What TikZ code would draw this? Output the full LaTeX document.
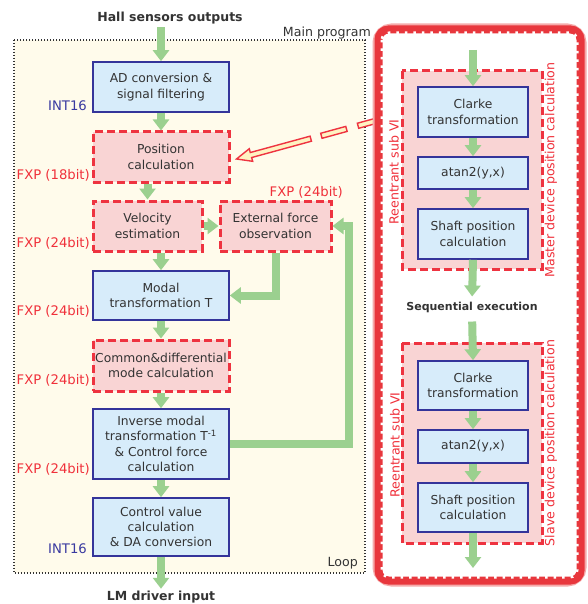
\documentclass[tikz,border=0pt]{standalone}
\usepackage{fontspec}
\setmainfont{DejaVu Sans}
\usetikzlibrary{arrows.meta,calc}

\definecolor{flowgreen}{HTML}{9BD08F}
\definecolor{bluefill}{HTML}{D7ECFA}
\definecolor{navyline}{HTML}{34349A}
\definecolor{pinkfill}{HTML}{F9D4D4}
\definecolor{dashred}{HTML}{EE3340}
\definecolor{txtgray}{HTML}{333333}
\definecolor{lblred}{HTML}{F0303A}
\definecolor{lblblue}{HTML}{3A3AA0}
\definecolor{creambg}{HTML}{FFFBEB}
\definecolor{paleyellow}{HTML}{FFF2C2}
\definecolor{panelred}{HTML}{E8373D}
\definecolor{panelglow}{HTML}{F5AAAA}

\newcommand\boxtxt{\fontsize{12.3}{15.3}\selectfont}
\newcommand\lbltxt{\fontsize{13.2}{15}\selectfont}
\newcommand\headtxt{\fontsize{12.5}{15}\selectfont\bfseries}
\newcommand\sidetxt{\fontsize{12.6}{15}\selectfont}

\tikzset{
  blk/.style={draw=navyline, line width=1.6pt, fill=bluefill, text=txtgray,
    align=center, inner sep=1pt, font=\boxtxt},
  fxpblk/.style={draw=dashred, line width=3pt, dash pattern=on 8pt off 4pt,
    fill=pinkfill, text=txtgray, align=center, inner sep=1pt, font=\boxtxt},
  grpbox/.style={draw=dashred, line width=3pt, dash pattern=on 8pt off 4pt, fill=pinkfill},
  flow/.style={draw=flowgreen, line width=8pt, -{Triangle[width=16pt,length=11pt]}},
  redlbl/.style={text=lblred, font=\lbltxt, inner sep=0pt},
  bluelbl/.style={text=lblblue, font=\lbltxt, inner sep=0pt},
  hollowarrow/.style={draw=dashred, line width=1.4pt, fill=paleyellow, line join=miter},
  sidelbl/.style={text=lblred, font=\sidetxt, rotate=90, inner sep=0pt},
}

\begin{document}
\begin{tikzpicture}[x=1pt,y=-1pt]
\useasboundingbox (0,0) rectangle (587,604);

% main program area
\filldraw[fill=creambg, draw=black!80, line width=1.2pt, dash pattern=on 1.3pt off 1.7pt]
  (14,40) rectangle (365,573);
\node[anchor=east, text=black!80, font=\sidetxt, inner sep=0pt] (mainlbl) at (371,33) {Main program};
\node[anchor=east, text=black!80, font=\sidetxt, inner sep=0pt] (looplbl) at (358,563) {Loop};

% input / output texts
\node[text=txtgray, font=\headtxt, inner sep=0pt] (hall) at (170,18) {Hall sensors outputs};
\node[text=txtgray, font=\headtxt, inner sep=0pt] (lm) at (161,597) {LM driver input};

% processing chain
\node[blk, minimum width=136pt, minimum height=50pt] (ad) at (161,87) {AD conversion \&\\signal filtering};
\node[fxpblk, minimum width=136pt, minimum height=50pt] (pos) at (161,157) {Position\\calculation};
\node[fxpblk, minimum width=109pt, minimum height=50pt] (vel) at (147.5,226) {Velocity\\estimation};
\node[fxpblk, minimum width=111pt, minimum height=50pt] (ext) at (275.5,226) {External force\\observation};
\node[blk, minimum width=136pt, minimum height=49pt] (modal) at (161,295.5) {Modal\\transformation T};
\node[fxpblk, minimum width=136pt, minimum height=51pt] (cm) at (161,365.5) {Common\&differential\\mode calculation};
\node[blk, minimum width=136pt, minimum height=70pt] (inv) at (161,444) {Inverse modal\\transformation T\textsuperscript{-1}\\\& Control force\\calculation};
\node[blk, minimum width=136pt, minimum height=58pt] (ctrl) at (161,527) {Control value\\calculation\\\& DA conversion};

% number formats
\node[bluelbl, anchor=east] (l1) at (87,106) {INT16};
\node[redlbl, anchor=east] (l2) at (90,175) {FXP (18bit)};
\node[redlbl, anchor=east] (l3) at (90,243) {FXP (24bit)};
\node[redlbl, anchor=east] (l4) at (343,192) {FXP (24bit)};
\node[redlbl, anchor=east] (l5) at (90,311) {FXP (24bit)};
\node[redlbl, anchor=east] (l6) at (90,380) {FXP (24bit)};
\node[redlbl, anchor=east] (l7) at (90,469) {FXP (24bit)};
\node[bluelbl, anchor=east] (l8) at (87,549) {INT16};

% green data flow
\coordinate (fbx) at (349,0);
\draw[flow] ($(ad.north |- hall.south)+(0,3)$) -- (ad.north);
\draw[flow] (ad.south) -- (pos.north);
\draw[flow] (vel.north |- pos.south) -- (vel.north);
\draw[flow] (vel.east) -- (ext.west);
\draw[flow] (modal.north |- vel.south) -- (modal.north);
\draw[flow] (ext.south) |- (modal.east);
\draw[flow] (modal.south) -- (cm.north);
\draw[flow] (cm.south) -- (inv.north);
\draw[flow] (inv.south) -- (ctrl.north);
\draw[flow, shorten >=2pt] (ctrl.south) -- (lm.north);
\draw[flow] (inv.east) -- (inv.east -| fbx) -- (fbx |- ext.east) -- (ext.east);

% dashed hollow arrow from the sub VI to position calculation
\coordinate (dtip) at ($(pos.east)+(6,2)$);
\begin{scope}[shift={(dtip)}, rotate=15.3]
  \filldraw[hollowarrow] (0,0) -- (15,6.5) -- (15,2.6) -- (77,2.6) -- (77,-2.6) -- (15,-2.6) -- (15,-6.5) -- cycle;
  \filldraw[hollowarrow] (88,2.6) rectangle (114,-2.6);
  \filldraw[hollowarrow] (126,2.6) rectangle (146,-2.6);
\end{scope}

% reentrant sub VI panel: soft halo, solid red band, white ticks on its inner edge
\draw[panelglow, line width=12pt, rounded corners=13pt] (378.5,29.5) rectangle (580.5,580.5);
\fill[white, rounded corners=10pt] (378.5,29.5) rectangle (580.5,580.5);
\draw[panelred, line width=8pt, rounded corners=10pt] (378.5,29.5) rectangle (580.5,580.5);
\draw[white, line width=3pt, dash pattern=on 2.5pt off 6pt, rounded corners=7pt]
  (382,33) rectangle (577,577);

% master device group
\filldraw[grpbox] (402,71) rectangle (542,269);
\node[blk, minimum width=110pt, minimum height=50pt] (cl1) at (473,112) {Clarke\\transformation};
\node[blk, minimum width=110pt, minimum height=32pt] (at1) at (473,173) {atan2(y,x)};
\node[blk, minimum width=110pt, minimum height=50pt] (sh1) at (473,234) {Shaft position\\calculation};
\node[sidelbl] (re1) at (394,172) {Reentrant sub VI};
\node[sidelbl] (ma1) at (551,170) {Master device position calculation};

\node[text=txtgray, font=\fontsize{11}{13}\selectfont\bfseries, inner sep=0pt] (seq) at (472,307) {Sequential execution};

% slave device group
\filldraw[grpbox] (402,343) rectangle (542,543);
\node[blk, minimum width=110pt, minimum height=49pt] (cl2) at (473,385.5) {Clarke\\transformation};
\node[blk, minimum width=110pt, minimum height=33pt] (at2) at (473,446.5) {atan2(y,x)};
\node[blk, minimum width=110pt, minimum height=49pt] (sh2) at (473,507.5) {Shaft position\\calculation};
\node[sidelbl] (re2) at (395,445) {Reentrant sub VI};
\node[sidelbl] (sl2) at (551,443) {Slave device position calculation};

\coordinate (vin) at (473,50);
\coordinate (vout) at (473,568);
\draw[flow] (vin) -- (cl1.north);
\draw[flow] (cl1.south) -- (at1.north);
\draw[flow] (at1.south) -- (sh1.north);
\draw[flow, shorten >=5pt] (sh1.south) -- (seq.north);
\draw[flow, shorten <=9pt] (seq.south) -- (cl2.north);
\draw[flow] (cl2.south) -- (at2.north);
\draw[flow] (at2.south) -- (sh2.north);
\draw[flow] (sh2.south) -- (vout);
\end{tikzpicture}
\end{document}
